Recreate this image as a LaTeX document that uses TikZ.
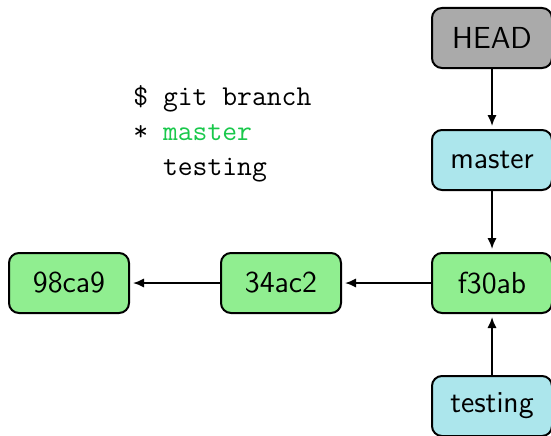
\documentclass[tikz,border=0pt]{standalone}
\usetikzlibrary{arrows.meta}

\definecolor{commitfill}{RGB}{144,238,144}
\definecolor{branchfill}{RGB}{172,230,236}
\definecolor{headfill}{RGB}{170,170,170}
\definecolor{curbranch}{RGB}{25,200,75}

\tikzset{
  box/.style={draw=black, line width=1pt, rounded corners=5pt,
    minimum width=60pt, minimum height=30pt, inner sep=0pt,
    font=\sffamily\fontsize{15.2}{18}\selectfont},
  commit/.style={box, fill=commitfill},
  branch/.style={box, fill=branchfill},
  headref/.style={box, fill=headfill},
  link/.style={-{Latex[length=5.5pt,width=4.6pt]}, line width=0.9pt, shorten >=1.5pt},
  shell/.style={anchor=base west, inner sep=0pt, font=\ttfamily\Large}
}

\begin{document}
\begin{tikzpicture}[x=1pt,y=1pt]
  \useasboundingbox (0,0) rectangle (275.5,217.5);

  % commits
  \node[commit] (c3) at (246,76) {f30ab};
  \node[commit] (c2) at (140.5,76) {34ac2};
  \node[commit] (c1) at (34.5,76) {98ca9};

  % references
  \node[headref] (head) at (246,198.5) {HEAD};
  \node[branch] (master) at (246,137.5) {master};
  \node[branch] (testing) at (246,14.5) {testing};

  % links
  \draw[link] (head) -- (master);
  \draw[link] (master) -- (c3);
  \draw[link] (testing) -- (c3);
  \draw[link] (c3) -- (c2);
  \draw[link] (c2) -- (c1);

  % shell output
  \node[shell] (cmd) at (66.5,165) {\$ git branch};
  \node[shell] (cur) at (66.5,147.5) {* \textcolor{curbranch}{master}};
  \node[shell] (other) at (66.5,130) {~~testing};
\end{tikzpicture}
\end{document}
